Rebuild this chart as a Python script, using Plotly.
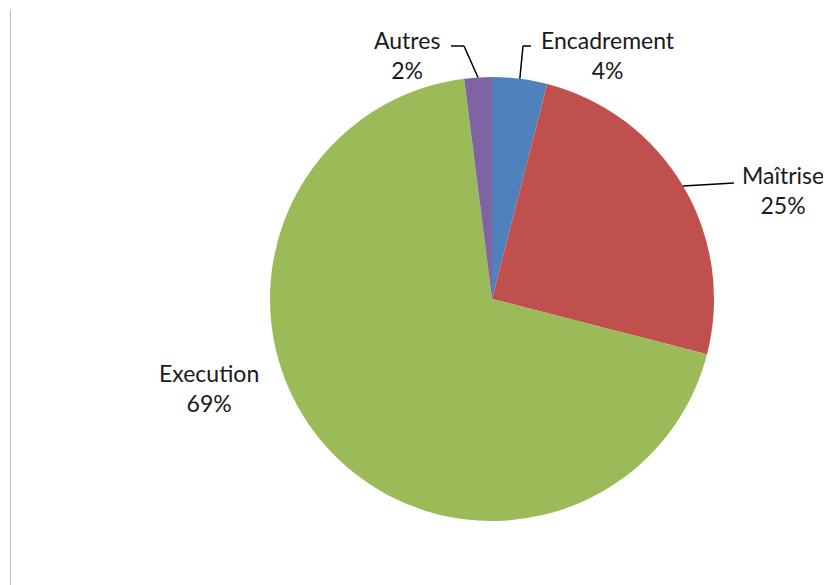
import math
import plotly.graph_objects as go

categories = ["Encadrement", "Maîtrise", "Execution", "Autres"]
values = [4, 25, 69, 2]
colors = ["#4F81BD", "#C0504D", "#9BBB59", "#8064A2"]

W, H = 831, 585
OFF = 8  # page body margin compensation
CX, CY, R = 492 - OFF, 299 - OFF, 222

fig = go.Figure(go.Pie(
    labels=categories,
    values=values,
    sort=False,
    direction="clockwise",
    rotation=0,
    marker=dict(colors=colors, line=dict(width=0)),
    textinfo="none",
    hoverinfo="label+percent",
    showlegend=False,
    domain=dict(x=[(CX - R) / W, (CX + R) / W], y=[(H - (CY + R)) / H, (H - (CY - R)) / H]),
))

def px(x):
    return x / W

def py(y):
    return 1 - y / H

total = sum(values)
cum = 0
mids = []
for v in values:
    mids.append((cum + v / 2) / total * 2 * math.pi)
    cum += v

def edge_point(i):
    a = mids[i]
    return CX + R * math.sin(a), CY - R * math.cos(a)

# label placements (layout, reference pixel coords): text centre and leader elbows
label_pos = {
    "Encadrement": ((608, 55), [(523, 46), (531, 46)]),
    "Maîtrise": ((783, 190), [(734, 183)]),
    "Execution": ((209, 388), None),
    "Autres": ((407, 55), [(464, 46), (451, 46)]),
}

shapes = [dict(type="line", xref="paper", yref="paper", x0=px(10.5 - OFF), x1=px(10.5 - OFF),
               y0=0, y1=py(9 - OFF), line=dict(color="#BDBDBD", width=1))]
annotations = []
tot = sum(values)
for i, (cat, v) in enumerate(zip(categories, values)):
    (tx, ty), elbows = label_pos[cat]
    pct = round(100 * v / tot)
    annotations.append(dict(
        x=px(tx - OFF), y=py(ty - OFF), xref="paper", yref="paper", showarrow=False,
        text=f"{cat}<br>{pct}%", align="center",
        font=dict(family="Lato, 'Open Sans', sans-serif", size=23, color="#1a1a1a"),
        xanchor="center", yanchor="middle",
    ))
    if elbows:
        pts = [edge_point(i)] + [(x - OFF, y - OFF) for x, y in elbows]
        for (x0, y0), (x1, y1) in zip(pts[:-1], pts[1:]):
            shapes.append(dict(type="line", xref="paper", yref="paper",
                               x0=px(x0), y0=py(y0), x1=px(x1), y1=py(y1),
                               line=dict(color="#000000", width=1.5)))

fig.update_layout(
    width=W, height=H,
    margin=dict(l=0, r=0, t=0, b=0),
    paper_bgcolor="#FFFFFF",
    plot_bgcolor="#FFFFFF",
    shapes=shapes,
    annotations=annotations,
)

fig.write_html("out.html")
